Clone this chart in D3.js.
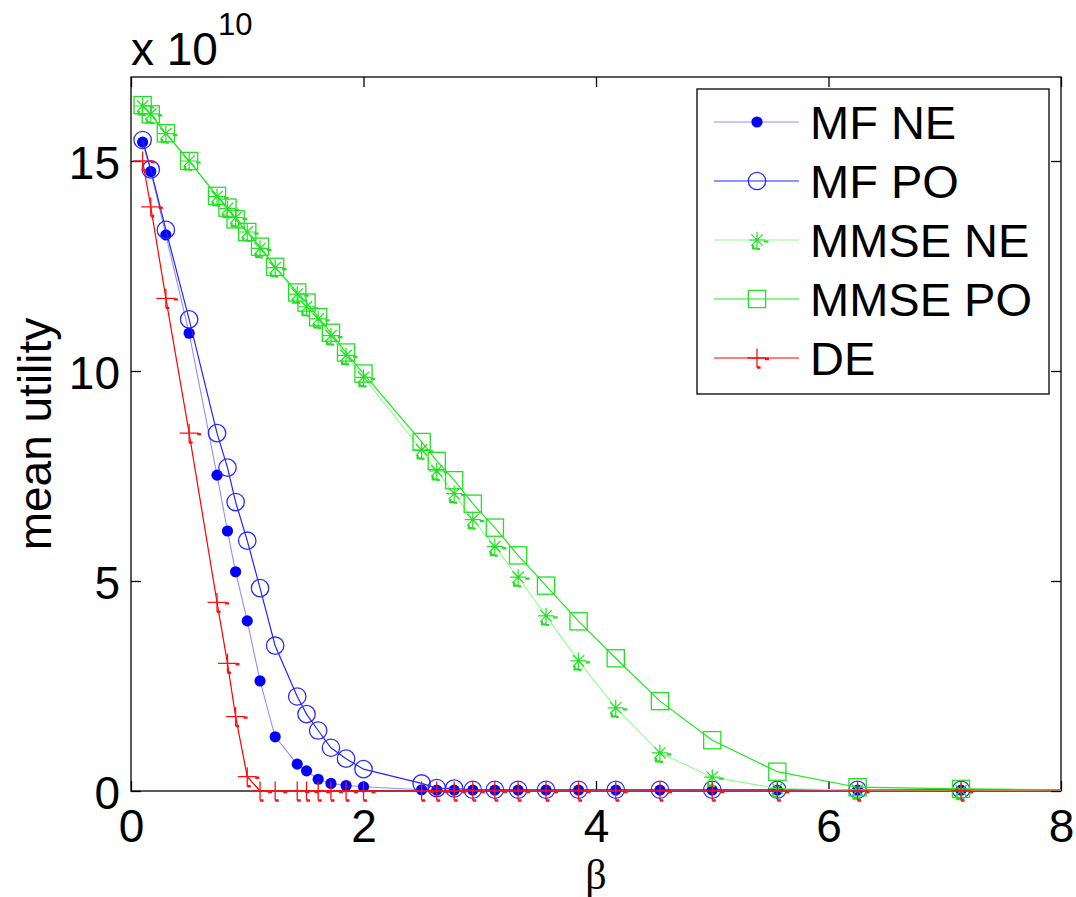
<!DOCTYPE html>
<html>
<head>
<meta charset="utf-8">
<script src="https://cdn.jsdelivr.net/npm/d3@7"></script>
<style>
  html, body { margin: 0; padding: 0; background: #ffffff; }
  svg { display: block; }
  text { font-family: "Liberation Sans", Arial, Helvetica, sans-serif; fill: #000; }
</style>
</head>
<body>
<svg id="chart" width="1076" height="897"></svg>
<script>
// β values shared by all five curves (the last one lies past the right edge)
const beta = [0.10, 0.17, 0.30, 0.50, 0.74, 0.83, 0.90, 1.00, 1.11, 1.24,
              1.43, 1.51, 1.61, 1.72, 1.85, 2.00, 2.50, 2.63, 2.78, 2.94,
              3.13, 3.33, 3.57, 3.85, 4.17, 4.55, 5.00, 5.56, 6.25, 7.14, 8.33];

// mean utility, in units of 1e10
const mfNE   = [15.45, 14.75, 13.24, 10.90, 7.52, 6.19, 5.22, 4.05, 2.62, 1.29,
                0.64, 0.48, 0.28, 0.18, 0.13, 0.10, 0.03, 0.02, 0.02, 0.02,
                0.02, 0.02, 0.02, 0.02, 0.02, 0.02, 0.02, 0.02, 0.02, 0.02, 0.02];
const mfPO   = [15.50, 14.80, 13.36, 11.23, 8.52, 7.70, 6.88, 5.96, 4.83, 3.46,
                2.25, 1.83, 1.44, 1.03, 0.77, 0.52, 0.18, 0.07, 0.06, 0.03,
                0.03, 0.03, 0.03, 0.03, 0.03, 0.03, 0.03, 0.03, 0.03, 0.03, 0.03];
const mmseNE = [16.31, 16.12, 15.65, 15.00, 14.15, 13.87, 13.65, 13.31, 12.92, 12.46,
                11.83, 11.53, 11.24, 10.84, 10.37, 9.85, 8.12, 7.62, 7.08, 6.46,
                5.82, 5.09, 4.17, 3.10, 1.98, 0.91, 0.33, 0.06, 0.02, 0.01, 0.01];
const mmsePO = [16.33, 16.11, 15.66, 15.00, 14.17, 13.89, 13.61, 13.31, 12.96, 12.48,
                11.87, 11.63, 11.28, 10.91, 10.44, 9.94, 8.31, 7.86, 7.40, 6.84,
                6.27, 5.61, 4.89, 4.04, 3.16, 2.14, 1.21, 0.46, 0.09, 0.05, 0.02];
const de     = [15.00, 13.91, 11.73, 8.52, 4.49, 3.04, 1.77, 0.34, 0, 0,
                0, 0, 0, 0, 0, 0, 0, 0, 0, 0,
                0, 0, 0, 0, 0, 0, 0, 0, 0, 0, 0];

const seriesNames = ["MF NE", "MF PO", "MMSE NE", "MMSE PO", "DE"];
const seriesValues = [mfNE, mfPO, mmseNE, mmsePO, de];

const xTicks = [0, 2, 4, 6, 8];
const yTicks = [0, 5, 10, 15];
const xDomain = [0, 8];
const yDomain = [0, 17];

// drawing styles for each curve
const styles = [
  { line: "#8f8fff", lw: 1.1, marker: "dot",    mc: "#0000ff" },
  { line: "#2626ff", lw: 1.2, marker: "circle", mc: "#2a2aff" },
  { line: "#8cff8c", lw: 1.1, marker: "star",   mc: "#22e022" },
  { line: "#1ee81e", lw: 1.2, marker: "square", mc: "#22e022" },
  { line: "#ff0000", lw: 1.2, marker: "plus",   mc: "#ff1010" }
];

const plot = { left: 131, top: 77, right: 1061, bottom: 791 };

const svg = d3.select("#chart");
const x = d3.scaleLinear().domain(xDomain).range([plot.left, plot.right]);
const y = d3.scaleLinear().domain(yDomain).range([plot.bottom, plot.top]);

svg.append("rect").attr("width", 1076).attr("height", 897).attr("fill", "#fff");

svg.append("defs").append("clipPath").attr("id", "plotClip")
  .append("rect")
  .attr("x", plot.left).attr("y", plot.top - 30)
  .attr("width", plot.right - plot.left).attr("height", plot.bottom - plot.top + 30);

// axes with inward ticks on all four sides
function styleAxis(g) {
  g.select(".domain").remove();
  g.selectAll(".tick line").attr("stroke", "#000").attr("stroke-width", 1.3);
  g.selectAll(".tick text").style("font-size", "46px").attr("fill", "#000");
}

svg.append("g").attr("transform", `translate(0,${plot.bottom})`)
  .call(d3.axisBottom(x).tickValues(xTicks).tickFormat(d3.format("d"))
        .tickSizeInner(-10).tickSizeOuter(0).tickPadding(18))
  .call(styleAxis);

svg.append("g").attr("transform", `translate(0,${plot.top})`)
  .call(d3.axisTop(x).tickValues(xTicks).tickFormat("")
        .tickSizeInner(-10).tickSizeOuter(0))
  .call(styleAxis);

svg.append("g").attr("transform", `translate(${plot.left},0)`)
  .call(d3.axisLeft(y).tickValues(yTicks).tickFormat(d3.format("d"))
        .tickSizeInner(-10).tickSizeOuter(0).tickPadding(11))
  .call(styleAxis)
  .call(g => g.selectAll(".tick text").attr("dy", "0.37em"));

svg.append("g").attr("transform", `translate(${plot.right},0)`)
  .call(d3.axisRight(y).tickValues(yTicks).tickFormat("")
        .tickSizeInner(-10).tickSizeOuter(0))
  .call(styleAxis);

svg.append("rect")
  .attr("x", plot.left).attr("y", plot.top)
  .attr("width", plot.right - plot.left).attr("height", plot.bottom - plot.top)
  .attr("fill", "none").attr("stroke", "#000").attr("stroke-width", 1.3);

// exponent note above the axis
const expo = svg.append("text").attr("x", plot.left).attr("y", 65).style("font-size", "46px").text("x 10");
const expoW = expo.node().getComputedTextLength();
svg.append("text").attr("x", plot.left + expoW).attr("y", 35).style("font-size", "31px").text("10");

// axis titles
svg.append("text")
  .attr("transform", `translate(51,${(plot.top + plot.bottom) / 2}) rotate(-90)`)
  .attr("text-anchor", "middle").style("font-size", "46px").text("mean utility");
svg.append("text")
  .attr("x", (plot.left + plot.right) / 2).attr("y", 889)
  .attr("text-anchor", "middle")
  .style("font-family", "'Liberation Serif', 'DejaVu Serif', serif")
  .style("font-size", "42px").text("β");

// marker shapes
function drawMarker(g, kind, cx, cy, color) {
  if (kind === "dot") {
    g.append("circle").attr("cx", cx).attr("cy", cy).attr("r", 5.6).attr("fill", color);
  } else if (kind === "circle") {
    g.append("circle").attr("cx", cx).attr("cy", cy).attr("r", 8.7)
      .attr("fill", "none").attr("stroke", color).attr("stroke-width", 1.3);
  } else if (kind === "square") {
    g.append("rect").attr("x", cx - 8.6).attr("y", cy - 8.6).attr("width", 17.2).attr("height", 17.2)
      .attr("fill", "none").attr("stroke", color).attr("stroke-width", 1.3);
  } else if (kind === "star") {
    const a = 8, d = 5.7;
    g.append("path")
      .attr("d", `M${cx - a},${cy}H${cx + a}M${cx},${cy - a}V${cy + a}` +
                 `M${cx - d},${cy - d}L${cx + d},${cy + d}M${cx - d},${cy + d}L${cx + d},${cy - d}`)
      .attr("fill", "none").attr("stroke", color).attr("stroke-width", 1.2);
    g.append("path")
      .attr("d", `M${cx + 7},${cy + 1.5}h4.5M${cx - 4},${cy + 5}v3.5h4M${cx},${cy + 9}h3`)
      .attr("fill", "none").attr("stroke", color).attr("stroke-width", 2.2);
  } else if (kind === "plus") {
    const a = 9.5;
    g.append("path")
      .attr("d", `M${cx - a},${cy}H${cx + a}M${cx},${cy - a}V${cy + a}`)
      .attr("fill", "none").attr("stroke", color).attr("stroke-width", 1.3);
    g.append("path")
      .attr("d", `M${cx + 8},${cy + 1}h4M${cx},${cy + a}h3.5`)
      .attr("fill", "none").attr("stroke", color).attr("stroke-width", 2.4);
  }
}

// curves: lines clipped to the axes box, markers for points inside the β range
const line = d3.line().x(d => x(d[0])).y(d => y(d[1]));
seriesValues.forEach((vals, i) => {
  const pts = beta.map((b, j) => [b, vals[j]]);
  const st = styles[i];
  svg.append("path").datum(pts)
    .attr("clip-path", "url(#plotClip)")
    .attr("d", line).attr("fill", "none")
    .attr("stroke", st.line).attr("stroke-width", st.lw);
  const mg = svg.append("g");
  pts.filter(p => p[0] <= xDomain[1]).forEach(p => drawMarker(mg, st.marker, x(p[0]), y(p[1]), st.mc));
});

// legend
const leg = { x: 697, y: 89, w: 352, h: 305, row0: 122, step: 59 };
svg.append("rect").attr("x", leg.x).attr("y", leg.y).attr("width", leg.w).attr("height", leg.h)
  .attr("fill", "#fff").attr("stroke", "#000").attr("stroke-width", 1.3);
seriesNames.forEach((name, i) => {
  const cy = leg.row0 + i * leg.step;
  const st = styles[i];
  const g = svg.append("g");
  g.append("line").attr("x1", 714).attr("x2", 799).attr("y1", cy).attr("y2", cy)
    .attr("stroke", st.line).attr("stroke-width", st.lw);
  drawMarker(g, st.marker, 757, cy, st.mc);
  g.append("text").attr("x", 810).attr("y", cy + 17).style("font-size", "47px").text(name);
});
</script>
</body>
</html>
